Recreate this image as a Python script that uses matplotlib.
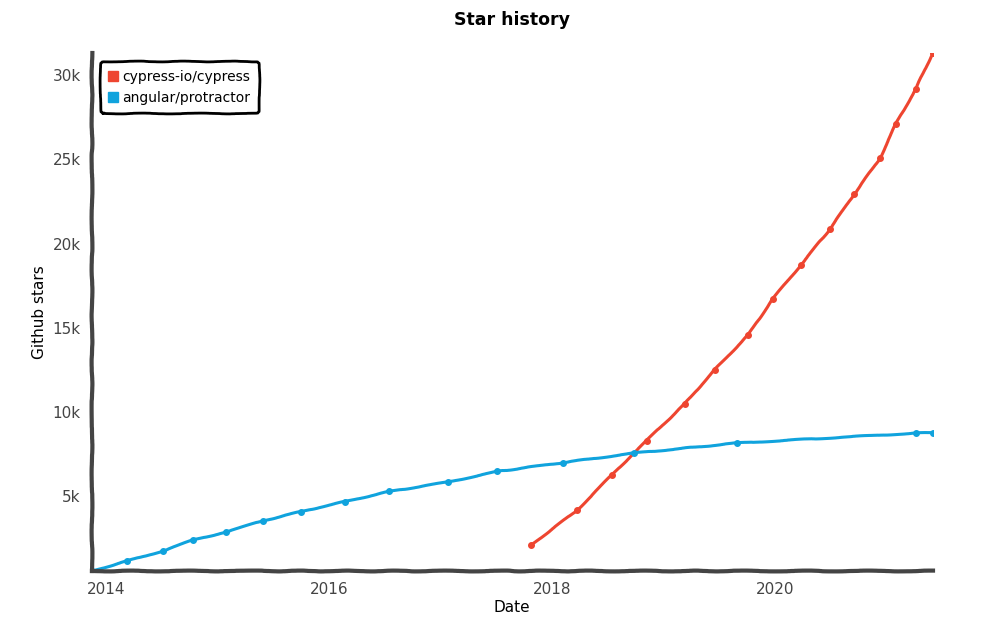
import datetime as dt
import matplotlib
matplotlib.use("Agg")
import matplotlib.pyplot as plt
import matplotlib.dates as mdates
from matplotlib.lines import Line2D
from matplotlib.ticker import FuncFormatter

# Star history data
cypress_dates = ["2017-10-23", "2018-03-22", "2018-07-16", "2018-11-06", "2019-03-10",
                 "2019-06-17", "2019-10-05", "2019-12-24", "2020-03-25", "2020-06-28",
                 "2020-09-16", "2020-12-09", "2021-01-30", "2021-04-06", "2021-05-31"]
cypress_stars = [2080, 4130, 6270, 8290, 10460, 12500, 14580, 16710, 18730, 20850,
                 22940, 25060, 27100, 29210, 31330]

protractor_dates = ["2013-11-14", "2014-03-10", "2014-07-05", "2014-10-12", "2015-01-26",
                    "2015-05-27", "2015-10-01", "2016-02-21", "2016-07-16", "2017-01-23",
                    "2017-07-05", "2018-02-06", "2018-09-24", "2019-08-29", "2021-04-06",
                    "2021-05-31"]
protractor_stars = [535, 1130, 1730, 2380, 2840, 3510, 4070, 4660, 5260, 5820, 6450,
                    6980, 7540, 8140, 8730, 8750]

series_names = ["cypress-io/cypress", "angular/protractor"]
series_colors = ["#ee4530", "#10a3dd"]
year_ticks = [2014, 2016, 2018, 2020]
star_ticks = [5000, 10000, 15000, 20000, 25000, 30000]


def to_dates(strs):
    return [dt.datetime.strptime(s, "%Y-%m-%d") for s in strs]


plt.xkcd(scale=0.4, length=90, randomness=6)
plt.rcParams['font.family'] = ['DejaVu Sans']
plt.rcParams['path.effects'] = []

fig = plt.figure(figsize=(10.05, 6.24), dpi=100)
ax = fig.add_axes([0.0915, 0.085, 0.8365, 0.83])

all_x = []
all_y = []
for name, color, xs, ys in [
        (series_names[0], series_colors[0], cypress_dates, cypress_stars),
        (series_names[1], series_colors[1], protractor_dates, protractor_stars)]:
    d = to_dates(xs)
    ax.plot(d, ys, color=color, lw=2.2, marker='o', ms=4, label=name)
    all_x += d
    all_y += ys

ax.set_xlim(min(all_x), max(all_x))
ax.set_ylim(min(all_y), max(all_y))

ax.set_xticks([dt.datetime(y, 1, 1) for y in year_ticks])
ax.xaxis.set_major_formatter(mdates.DateFormatter("%Y"))
ax.set_yticks(star_ticks)
ax.yaxis.set_major_formatter(FuncFormatter(lambda v, p: f"{int(v/1000)}k"))
ax.tick_params(length=0, labelsize=11, labelcolor="#444444", pad=8)

for side in ["top", "right"]:
    ax.spines[side].set_visible(False)
for side in ["left", "bottom"]:
    ax.spines[side].set_color("#444444")
    ax.spines[side].set_linewidth(3)

ax.set_title("Star history", fontsize=12.5, fontweight="bold", pad=20)
ax.set_xlabel("Date", fontsize=11, labelpad=2)
ax.set_ylabel("Github stars", fontsize=11, labelpad=4)

handles = [Line2D([], [], ls="none", marker="s", ms=7, color=c) for c in series_colors]
leg = ax.legend(handles, series_names, loc="upper left", fontsize=10,
                frameon=True, fancybox=True, handlelength=0.6, handletextpad=0.4,
                borderaxespad=0.6, borderpad=0.6, labelspacing=0.5)
leg.get_frame().set_edgecolor("black")
leg.get_frame().set_linewidth(2)
leg.get_frame().set_alpha(1)

fig.savefig("out.png", dpi=100)
